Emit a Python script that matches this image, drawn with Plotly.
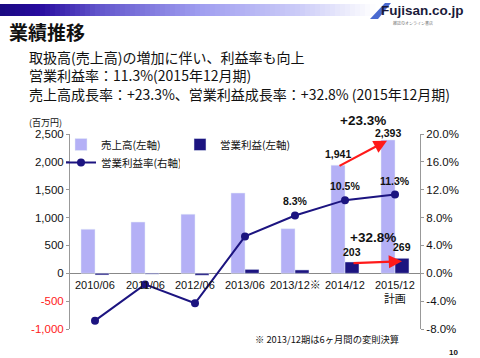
import plotly.graph_objects as go

categories = ["2010/06", "2011/06", "2012/06", "2013/06", "2013/12※", "2014/12", "2015/12<br>計画"]
sales = [790, 920, 1060, 1440, 800, 1941, 2393]
op_profit = [-30, -15, -35, 70, 60, 203, 269]
op_margin = [-6.8, -1.6, -4.3, 5.3, 8.3, 10.5, 11.3]
margin_labels = ["", "", "", "", "8.3%", "10.5%", "11.3%"]
left_ticks = [-1000, -500, 0, 500, 1000, 1500, 2000, 2500]
left_tick_text = ["<span style='color:#ff2020'>-1,000</span>", "<span style='color:#ff2020'>-500</span>",
                  "0", "500", "1,000", "1,500", "2,000", "2,500"]
right_ticks = [-8, -4, 0, 4, 8, 12, 16, 20]
right_tick_text = ["-8.0%", "-4.0%", "0.0%", "4.0%", "8.0%", "12.0%", "16.0%", "20.0%"]

FONT = "Liberation Sans, Arial, Noto Sans CJK JP, sans-serif"
JP = "Noto Sans CJK JP, sans-serif"
NAVY = "#1c1480"
LAV = "#b4b0f6"

x_idx = list(range(len(categories)))

fig = go.Figure()
fig.add_trace(go.Bar(x=x_idx, y=sales, name="売上高(左軸)", marker_color=LAV, yaxis="y", legend="legend"))
fig.add_trace(go.Bar(x=x_idx, y=op_profit, name="営業利益(左軸)", marker_color=NAVY, yaxis="y", legend="legend"))
fig.add_trace(go.Scatter(x=x_idx, y=op_margin, name="営業利益率(右軸)", mode="lines+markers",
                         line=dict(color=NAVY, width=2), marker=dict(color=NAVY, size=8), yaxis="y2",
                         legend="legend2"))

W, H = 480, 358
L, R, T, B = 70, 60, 134, 29


def py(ypx):
    return (H - B - ypx) / (H - T - B)


def px(xpx):
    return (xpx - L) / (W - L - R)


shapes = []
# gradient header bar
stops = [(0, (26, 10, 128)), (40, (40, 12, 160)), (100, (100, 88, 205)), (200, (160, 158, 240)),
         (300, (205, 205, 248)), (375, (255, 255, 255))]
N = 75
for i in range(N):
    x0 = i * 5
    xm = x0 + 2.5
    c = (255, 255, 255)
    for j in range(len(stops) - 1):
        if stops[j][0] <= xm <= stops[j + 1][0]:
            a, ca = stops[j]
            b, cb = stops[j + 1]
            t = (xm - a) / (b - a)
            c = tuple(int(ca[k] + (cb[k] - ca[k]) * t) for k in range(3))
            break
    shapes.append(dict(type="rect", xref="paper", yref="paper",
                       x0=px(x0), x1=px(x0 + 5.5), y0=py(16), y1=py(4),
                       line=dict(width=0), fillcolor="rgb(%d,%d,%d)" % c, layer="below"))

# logo slanted shape
shapes.append(dict(type="path", xref="paper", yref="paper",
                   path="M %f,%f L %f,%f L %f,%f L %f,%f Z" % (px(370), py(19), px(385), py(3), px(391), py(3), px(378), py(19)),
                   fillcolor="#4a6ad0", line=dict(width=0)))

annotations = []


def txt(x, y, s, size, bold=False, color="#111", family=JP, xanchor="left", yanchor="middle"):
    annotations.append(dict(xref="paper", yref="paper", x=px(x), y=py(y), text=("<b>%s</b>" % s) if bold else s,
                            showarrow=False, font=dict(size=size, color=color, family=family),
                            xanchor=xanchor, yanchor=yanchor))


txt(7, 31, "業績推移", 19, bold=True)
txt(27, 57, "取扱高(売上高)の増加に伴い、利益率も向上", 14)
txt(27, 75, "営業利益率：11.3%(2015年12月期)", 14)
txt(27, 93.5, "売上高成長率：+23.3%、営業利益成長率：+32.8% (2015年12月期)", 14)
txt(27, 122, "(百万円)", 9)
txt(379, 10, "Fujisan.co.jp", 13.5, bold=True, color="#1a1a3a", family=FONT)
txt(413, 23, "雑誌のオンライン書店", 4, color="#777", xanchor="center")
txt(253, 339, "※ 2013/12期は6ヶ月間の変則決算", 9.3)
txt(453, 352, "10", 8, bold=True, family=FONT, xanchor="center")

# category labels at zero line
for i, c in enumerate(categories):
    annotations.append(dict(x=i, y=0, xref="x", yref="y", text=c, showarrow=False, yanchor="top", yshift=-4,
                            font=dict(size=11, color="#111", family=FONT)))

# margin labels
for i, lab in enumerate(margin_labels):
    if lab:
        annotations.append(dict(x=i, y=op_margin[i], xref="x", yref="y2", text="<b>%s</b>" % lab, showarrow=False,
                                yanchor="bottom", yshift=6, font=dict(size=10.5, color="#111", family=FONT)))

# value labels for last two years
annotations.append(dict(x=5 - 0.14, y=sales[5], xref="x", yref="y", text="<b>1,941</b>", showarrow=False,
                        yanchor="bottom", yshift=3, font=dict(size=10.5, color="#111", family=FONT)))
annotations.append(dict(x=6 - 0.14, y=sales[6], xref="x", yref="y", text="<b>2,393</b>", showarrow=False,
                        yanchor="bottom", yshift=-1, font=dict(size=10.5, color="#111", family=FONT)))
annotations.append(dict(x=5 + 0.14, y=op_profit[5], xref="x", yref="y", text="<b>203</b>", showarrow=False,
                        yanchor="bottom", yshift=2, font=dict(size=10.5, color="#111", family=FONT)))
annotations.append(dict(x=6 + 0.14, y=op_profit[6], xref="x", yref="y", text="<b>269</b>", showarrow=False,
                        yanchor="bottom", yshift=3, font=dict(size=10.5, color="#111", family=FONT)))
annotations.append(dict(x=5.35, y=2393, xref="x", yref="y", text="<b>+23.3%</b>", showarrow=False,
                        yanchor="bottom", yshift=10, font=dict(size=13.5, color="#111", family=FONT)))
annotations.append(dict(x=5.55, y=650, xref="x", yref="y", text="<b>+32.8%</b>", showarrow=False,
                        yanchor="middle", font=dict(size=13.5, color="#111", family=FONT)))

# red arrows
annotations.append(dict(x=5.84, y=2380, xref="x", yref="y", ax=-49, ay=26, showarrow=True, text="",
                        arrowcolor="#ff1a1a", arrowwidth=2.2, arrowhead=2, arrowsize=1.2))
annotations.append(dict(x=6.14, y=216, xref="x", yref="y", ax=-50, ay=2, showarrow=True, text="",
                        arrowcolor="#ff1a1a", arrowwidth=2.2, arrowhead=2, arrowsize=1.2))

legend_common = dict(orientation="h", xanchor="left", yanchor="top", entrywidth=74, entrywidthmode="pixels",
                     font=dict(size=10.5, family=JP), bgcolor="rgba(0,0,0,0)", itemwidth=30, tracegroupgap=0)

fig.update_layout(
    width=W, height=H, margin=dict(l=L, r=R, t=T, b=B),
    paper_bgcolor="white", plot_bgcolor="white",
    font=dict(family=FONT, size=11, color="#111"),
    barmode="group", bargap=0.44, bargroupgap=0,
    xaxis=dict(range=[-0.5, 6.5], showticklabels=False, showgrid=False, zeroline=False, showline=False,
               ticks=""),
    yaxis=dict(range=[-1000, 2500], tickvals=left_ticks, ticktext=left_tick_text, showgrid=False,
               zeroline=True, zerolinecolor="#888", zerolinewidth=1, showline=True, linecolor="#999",
               ticks="outside", ticklen=3, tickcolor="#999", tickfont=dict(size=11.5, family=FONT)),
    yaxis2=dict(range=[-8, 20], tickvals=right_ticks, ticktext=right_tick_text, overlaying="y", side="right",
                showgrid=False, zeroline=False, showline=True, linecolor="#999", ticks="outside", ticklen=3,
                tickcolor="#999", tickfont=dict(size=11.5, family=FONT)),
    legend=dict(x=px(61), y=py(130), **legend_common),
    legend2=dict(x=px(61), y=py(148), **legend_common),
    shapes=shapes, annotations=annotations,
)

fig.write_html("out.html", config={"displayModeBar": False},
               post_script="document.body.style.margin='0';")
